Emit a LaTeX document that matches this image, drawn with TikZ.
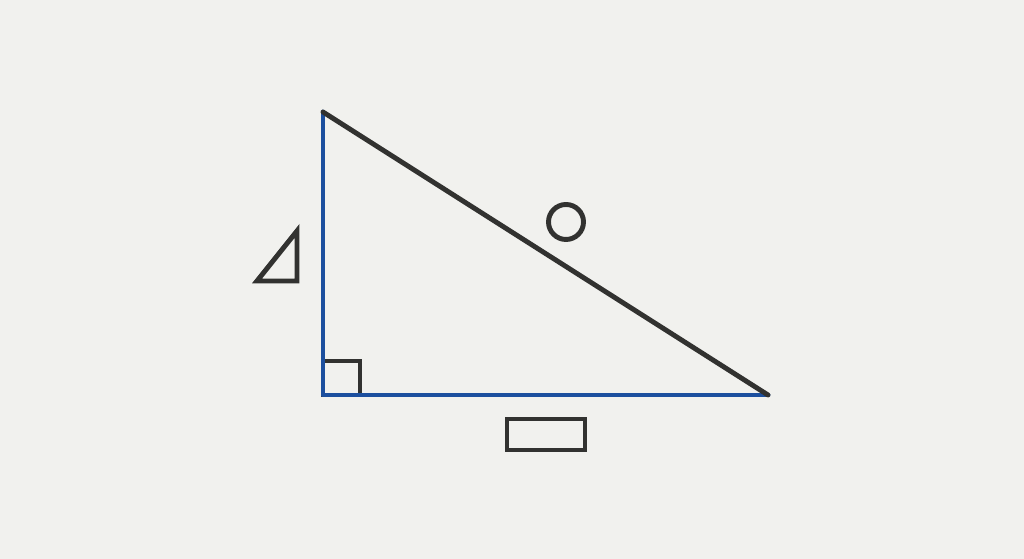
\documentclass[tikz,border=0pt]{standalone}
\usepackage{tikz}
\definecolor{paper}{HTML}{F1F1EE}
\definecolor{legblue}{HTML}{1C4F9E}
\definecolor{ink}{HTML}{323230}
\begin{document}
\begin{tikzpicture}[scale=1]
	\tikzset{leg/.style={draw=legblue, line width=2.8pt, line cap=round, line join=round},
		symbolbox/.style={draw=ink, line width=2.8pt, fill=none, inner sep=0pt}}
	\fill[paper] (0,0) rectangle (20.48,11.18);
	\useasboundingbox (0,0) rectangle (20.48,11.18);
	\coordinate (A) at (6.46, 8.94);
	\coordinate (B) at (6.46, 3.28);
	\coordinate (C) at (15.36, 3.28);
	
	\draw[ink, line width=2.8pt] (B) rectangle (7.20, 3.96);
	\draw[leg] (A) -- (B) -- (C);
	\draw[ink, line width=2.8pt, line cap=round] (A) -- (C);
	
	\node[symbolbox, shape=circle, minimum size=0.7cm] (hyp) at (11.32, 6.74) {};
	\node[symbolbox, shape=rectangle, minimum width=1.56cm, minimum height=0.62cm] (base) at (10.92, 2.49) {};
	
	\coordinate (t1) at (5.14, 5.56);
	\coordinate (t2) at (5.94, 6.56);
	\coordinate (t3) at (5.94, 5.56);
	\draw[ink, line width=2.8pt, line join=miter] (t1) -- (t2) -- (t3) -- cycle;
\end{tikzpicture}
\end{document}
